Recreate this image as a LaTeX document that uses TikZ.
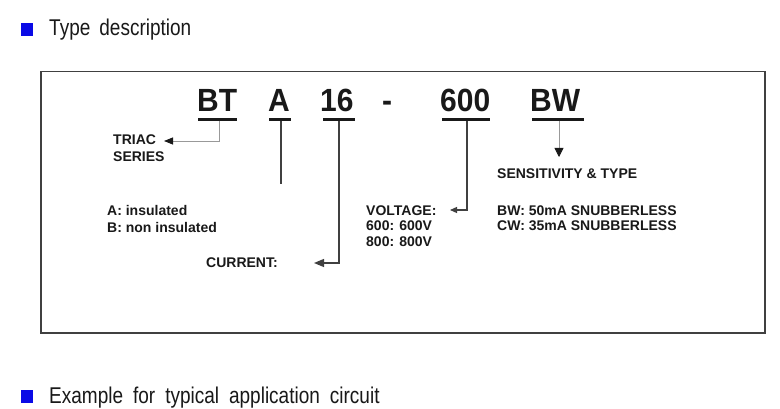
\documentclass[tikz,border=0pt]{standalone}
\usepackage{fontspec}
\setmainfont{Liberation Sans}
\usetikzlibrary{arrows.meta}
\definecolor{hdblue}{RGB}{10,10,230}
\definecolor{ink}{RGB}{25,25,25}
\newcommand{\tallhd}[1]{\scalebox{1}[1.2]{#1}}
\newcommand{\tallbig}[1]{\scalebox{1}[1.07]{#1}}
\begin{document}
\begin{tikzpicture}[x=1pt,y=-1pt,
  big/.style={font=\fontsize{30}{30}\selectfont\bfseries, text=ink, inner sep=0, anchor=base west},
  lbl/.style={font=\fontsize{14}{14}\selectfont\bfseries, text=ink, inner sep=0, anchor=base west},
  head/.style={font=\fontsize{19}{19}\selectfont, text=ink, inner sep=0, anchor=base west},
  uline/.style={line width=3pt, ink},
  darkline/.style={line width=1.2pt, black!75},
  lightline/.style={line width=0.8pt, black!40},
  bluesq/.style={fill=hdblue, draw=none, inner sep=0, minimum width=12pt, minimum height=13pt, anchor=north west},
  frame/.style={draw=black!75, line width=1.5pt, inner sep=0, anchor=north west, minimum width=724pt, minimum height=261pt}
]
\useasboundingbox (0,0) rectangle (780,409);
\fill[white] (0,0) rectangle (780,409);

% headers
\node[bluesq] (sq1) at (21,23) {};
\node[head] (h1) at (49,36) {\tallhd{Type\hspace{9pt}description}};
\node[bluesq] (sq2) at (21,390) {};
\node[head] (h2) at (49,403) {\tallhd{Example\hspace{10pt}for\hspace{10pt}typical\hspace{10pt}application\hspace{10pt}circuit}};

% frame
\node[frame] (box) at (40,71) {};

% big code
\node[big] (bt) at (197,112) {\tallbig{BT}};
\node[big] (ta) at (268,112) {\tallbig{A}};
\node[big] (t16) at (320,112) {\tallbig{16}};
\node[big] (dash) at (382,112) {\tallbig{-}};
\node[big] (t600) at (440,112) {\tallbig{600}};
\node[big] (tbw) at (530,112) {\tallbig{BW}};

% underlines
\draw[uline] (198,120) -- (237,120);
\draw[uline] (269,120) -- (291,120);
\draw[uline] (323,120) -- (355,120);
\draw[uline] (442,120) -- (490,120);
\draw[uline] (532,120) -- (584,120);

% connector points
\coordinate (btu) at (219,121);
\coordinate (au) at (281,121);
\coordinate (u16) at (339,121);
\coordinate (u600) at (467,121);
\coordinate (bwu) at (559,121);
\coordinate (triacarr) at (164,141);
\coordinate (aend) at (281,184);
\coordinate (currarr) at (314,263);
\coordinate (voltarr) at (450,210);
\coordinate (bwarr) at (559,157);

% labels
\node[lbl] (triac) at (113,145) {TRIAC};
\node[lbl] (series) at (113,162) {SERIES};
\node[lbl] (ains) at (107,216) {A: insulated};
\node[lbl] (bins) at (107,233) {B: non insulated};
\node[lbl] (curr) at (206,268) {CURRENT:};
\node[lbl] (volt) at (366,215) {VOLTAGE:};
\node[lbl] (v600) at (366,231) {600: 600V};
\node[lbl] (v800) at (366,247) {800: 800V};
\node[lbl] (sens) at (497,179) {SENSITIVITY \& TYPE};
\node[lbl] (bw) at (497,215) {BW: 50mA SNUBBERLESS};
\node[lbl] (cw) at (497,231) {CW: 35mA SNUBBERLESS};

% connectors
\draw[lightline, -{Triangle[length=9pt,width=7pt,color=ink]}] (btu) |- (triacarr);
\draw[darkline] (au) -- (aend);
\draw[darkline, -{Triangle[length=10pt,width=8pt]}] (u16) |- (currarr);
\draw[darkline, -{Triangle[length=7pt,width=6pt]}] (u600) |- (voltarr);
\draw[lightline, -{Triangle[length=9pt,width=9pt,color=ink]}] (bwu) -- (bwarr);
\end{tikzpicture}
\end{document}
